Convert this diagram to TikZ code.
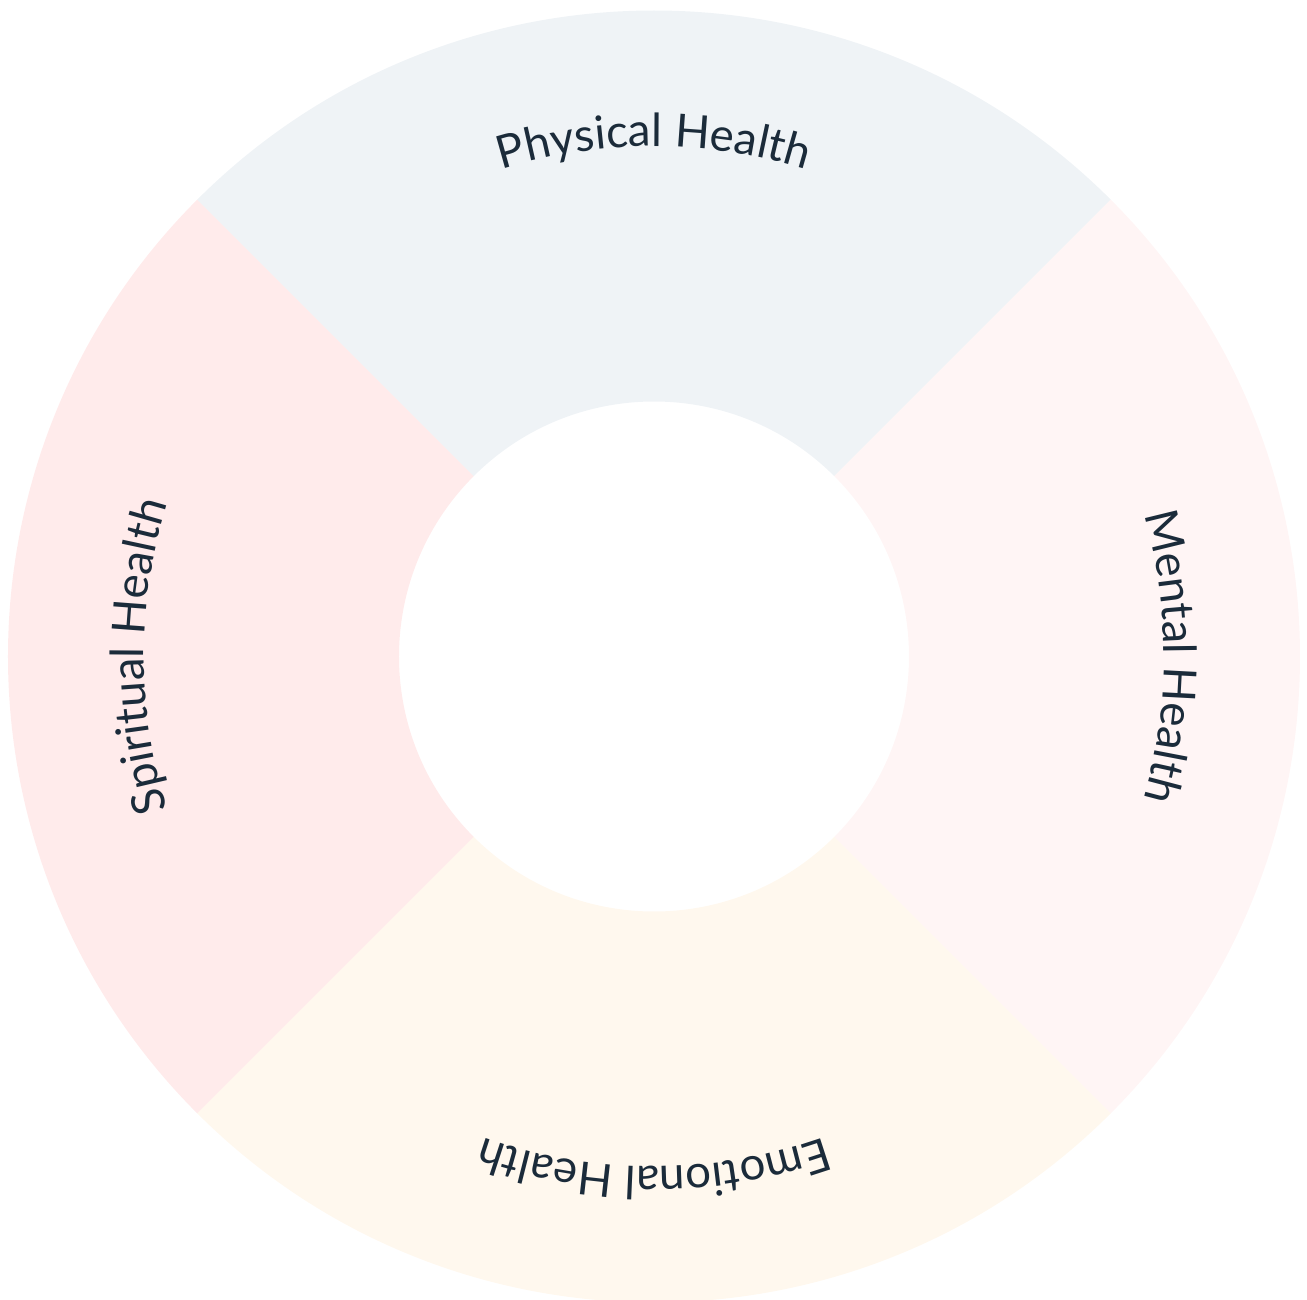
\documentclass[tikz,border=0pt]{standalone}
\usepackage{fontspec}
\usepackage{tikz}
\usetikzlibrary{decorations.text}
\newfontfamily\latofont{Lato}
\definecolor{physique}{HTML}{EFF3F6}
\definecolor{mental}{HTML}{FFF5F5}
\definecolor{emotion}{HTML}{FFF8EE}
\definecolor{spirituel}{HTML}{FFEBEB}
\definecolor{texte}{HTML}{1B2B3A}
\newcommand{\rin}{5.1}
\newcommand{\rout}{12.92}
\newcommand{\rtxt}{10.2}
\newcommand{\quartier}[4] % {angle debut}{angle fin}{couleur}{texte}
{
	\fill [#3] (#1:\rin) -- (#1:\rout) arc [start angle=#1, end angle=#2, radius=\rout] -- (#2:\rin) arc [start angle=#2, end angle=#1, radius=\rin] -- cycle;
	\path [decorate, decoration={text along path, text align=center, text={|\latofont\fontsize{26pt}{31pt}\selectfont\color{texte}|#4}}] (#2:\rtxt) arc [start angle=#2, end angle=#1, radius=\rtxt];
}

\begin{document}
\begin{tikzpicture}
		\useasboundingbox (-13.08,-12.87) rectangle (13.06,13.13);
		\quartier{45}{135}{physique}{Physical Health}
		\quartier{-45}{45}{mental}{Mental Health}
		\quartier{225}{315}{emotion}{Emotional Health}
		\quartier{135}{225}{spirituel}{Spiritual Health}
\end{tikzpicture}
\end{document}
